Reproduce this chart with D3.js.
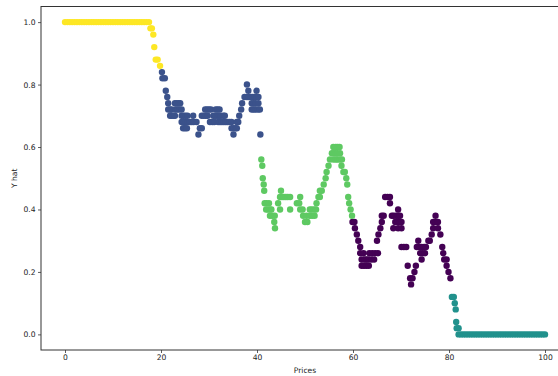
<!DOCTYPE html>
<html>
<head>
<meta charset="utf-8">
<script src="https://cdn.jsdelivr.net/npm/d3@7"></script>
<style>
  html, body { margin: 0; padding: 0; background: #fff; }
  svg { display: block; font-family: "DejaVu Sans", sans-serif; }
</style>
</head>
<body>
<svg id="chart" width="558" height="376"></svg>
<script>
// Predicted probability (Y hat) against price, coloured by cluster.
// Each cluster is a list of [price, yhat] pairs.
const clusterYellow = [
  [0,1],[0.5,1],[1,1],[1.5,1],[2,1],[2.5,1],[3,1],[3.5,1],[4,1],[4.5,1],[5,1],[5.5,1],
  [6,1],[6.5,1],[7,1],[7.5,1],[8,1],[8.5,1],[9,1],[9.5,1],[10,1],[10.5,1],[11,1],[11.5,1],
  [12,1],[12.5,1],[13,1],[13.5,1],[14,1],[14.5,1],[15,1],[15.5,1],[16,1],[16.5,1],[17,1],[17.5,1],
  [17.8,0.98],[18.1,0.98],[18.4,0.96],[18.6,0.92],[18.9,0.88],[19.3,0.88],[19.8,0.86]
];
const clusterBlue = [
  [20.2,0.84],[20.3,0.82],[20.8,0.82],[21.0,0.78],[21.3,0.76],
  [21.5,0.74],[22.9,0.74],[23.3,0.74],[23.7,0.74],[24.0,0.74],
  [21.5,0.72],[21.9,0.72],[22.2,0.72],[23.0,0.72],[23.4,0.72],[23.8,0.72],[24.3,0.72],
  [29.2,0.72],[29.6,0.72],[30.0,0.72],[30.4,0.72],[31.4,0.72],[31.8,0.72],[32.2,0.72],
  [21.9,0.70],[22.2,0.70],[22.6,0.70],[22.9,0.70],[24.3,0.70],[24.7,0.70],[25.1,0.70],[25.5,0.70],
  [26.7,0.70],[28.5,0.70],[28.9,0.70],[29.3,0.70],[29.7,0.70],[30.9,0.70],[31.3,0.70],[31.7,0.70],
  [32.1,0.70],[32.5,0.70],[33.0,0.70],[33.3,0.70],
  [24.3,0.68],[24.8,0.68],[25.2,0.68],[25.6,0.68],[26.0,0.68],[26.4,0.68],[26.8,0.68],[27.4,0.68],
  [30.2,0.68],[30.7,0.68],[31.1,0.68],[31.9,0.68],[32.3,0.68],[32.7,0.68],[33.1,0.68],[33.5,0.68],
  [33.9,0.68],[34.3,0.68],[34.7,0.68],[35.8,0.68],[36.1,0.68],
  [24.6,0.66],[25.0,0.66],[25.4,0.66],[28.1,0.66],[28.5,0.66],[34.7,0.66],[35.1,0.66],[35.5,0.66],
  [35.8,0.66],[27.8,0.64],[35.1,0.64],
  [36.3,0.70],[36.7,0.72],[36.9,0.74],[37.4,0.76],[37.9,0.80],[38.2,0.78],
  [37.9,0.76],[38.3,0.76],[38.7,0.76],[39.1,0.76],[39.5,0.76],[39.9,0.76],[40.3,0.76],
  [38.9,0.74],[39.3,0.74],[39.7,0.74],[40.3,0.74],[38.9,0.72],[39.3,0.72],[39.7,0.72],[40.2,0.72],
  [40.6,0.72],[39.9,0.78],[40.7,0.64]
];
const clusterGreen = [
  [40.9,0.56],[41.1,0.54],[41.2,0.50],[41.4,0.48],[41.5,0.46],[41.6,0.42],[42.0,0.42],[42.5,0.42],
  [41.9,0.40],[42.3,0.40],[42.7,0.40],[43.0,0.40],[42.7,0.38],[43.2,0.38],[43.7,0.38],[43.6,0.36],
  [43.75,0.34],[44.4,0.42],[44.8,0.40],[45.0,0.46],[44.8,0.44],[45.2,0.44],[45.6,0.44],[46.0,0.44],
  [46.4,0.44],[46.9,0.44],[46.9,0.40],[48.3,0.42],[48.8,0.42],[49.0,0.44],[49.0,0.40],[49.5,0.40],
  [49.6,0.38],[50.0,0.36],[50.3,0.38],[50.5,0.36],[51.0,0.40],[51.4,0.40],[51.9,0.40],[52.3,0.40],
  [51.0,0.38],[51.5,0.38],[52.0,0.38],[52.4,0.42],[52.8,0.44],[53.1,0.46],[53.5,0.46],[53.1,0.44],
  [53.9,0.48],[54.3,0.50],[54.5,0.52],[54.9,0.54],[55.2,0.56],[55.6,0.58],[56.0,0.58],[56.4,0.58],
  [56.8,0.58],[57.3,0.58],[55.9,0.60],[56.4,0.60],[56.8,0.60],[57.2,0.60],[55.9,0.56],[56.4,0.56],
  [56.8,0.56],[57.3,0.56],[57.7,0.56],[57.6,0.54],[58.0,0.52],[58.3,0.52],[58.6,0.50],[58.8,0.48],
  [59.0,0.44],[59.2,0.42],[59.5,0.40],[59.8,0.38]
];
const clusterPurple = [
  [59.9,0.36],[60.3,0.36],[60.4,0.34],[60.8,0.32],[61.1,0.30],[61.5,0.28],[61.5,0.26],[62.2,0.26],
  [61.8,0.24],[62.4,0.24],[62.8,0.24],[61.8,0.22],[62.3,0.22],[62.8,0.22],[63.3,0.22],[63.2,0.24],
  [63.8,0.24],[64.4,0.24],[63.4,0.26],[64.0,0.26],[64.6,0.26],[65.2,0.26],[65.0,0.30],[65.3,0.32],
  [65.7,0.34],[66.0,0.36],[66.0,0.38],[66.4,0.38],[66.7,0.44],[67.2,0.44],[67.7,0.44],[67.7,0.42],
  [68.1,0.38],[68.5,0.38],[69.0,0.38],[69.4,0.38],[69.8,0.38],[68.8,0.36],[69.3,0.36],[69.8,0.36],
  [70.1,0.36],[68.4,0.34],[69.4,0.34],[70.1,0.34],[69.4,0.40],[70.1,0.28],[70.6,0.28],[71.1,0.28],
  [71.4,0.22],[71.9,0.18],[72.4,0.18],[72.1,0.16],[72.8,0.20],[73.1,0.22],[73.6,0.30],[73.3,0.28],
  [73.8,0.28],[74.3,0.28],[74.8,0.28],[75.2,0.28],[74.0,0.26],[74.5,0.26],[75.0,0.26],[74.3,0.24],
  [75.7,0.30],[76.0,0.30],[76.4,0.32],[76.7,0.34],[77.7,0.34],[76.7,0.36],[77.2,0.36],[77.7,0.36],
  [77.2,0.38],[78.2,0.32],[78.6,0.28],[78.8,0.26],[79.0,0.24],[79.5,0.24],[79.5,0.22],[79.9,0.20],
  [80.3,0.18]
];
const clusterTeal = [
  [80.6,0.12],[81.0,0.12],[81.2,0.10],[81.4,0.08],[81.5,0.04],[81.6,0.02],[82.0,0.02],
  [82,0],[82.5,0],[83,0],[83.5,0],[84,0],[84.5,0],[85,0],[85.5,0],[86,0],[86.5,0],[87,0],[87.5,0],
  [88,0],[88.5,0],[89,0],[89.5,0],[90,0],[90.5,0],[91,0],[91.5,0],[92,0],[92.5,0],[93,0],[93.5,0],
  [94,0],[94.5,0],[95,0],[95.5,0],[96,0],[96.5,0],[97,0],[97.5,0],[98,0],[98.5,0],[99,0],[99.5,0],[100,0]
];

const clusters = [clusterPurple, clusterBlue, clusterTeal, clusterGreen, clusterYellow];
const clusterColors = ["#440154", "#3b528b", "#21918c", "#5ec962", "#fde725"];

const xTicks = [0, 20, 40, 60, 80, 100];
const yTicks = [0.0, 0.2, 0.4, 0.6, 0.8, 1.0];
const xLabel = "Prices";
const yLabel = "Y hat";

const svg = d3.select("#chart");
const plotLeft = 41, plotRight = 569, plotTop = 6.5, plotBottom = 350;

const x = d3.scaleLinear().domain([-5, 105]).range([plotLeft, plotRight]);
const y = d3.scaleLinear().domain([-0.05, 1.05]).range([plotBottom, plotTop]);

// points
clusters.forEach((pts, i) => {
  svg.append("g")
    .selectAll("circle")
    .data(pts)
    .join("circle")
    .attr("cx", d => x(d[0]))
    .attr("cy", d => y(d[1]))
    .attr("r", 3.2)
    .attr("fill", clusterColors[i]);
});

// axes
const xAxis = svg.append("g")
  .attr("transform", `translate(0,${plotBottom})`)
  .call(d3.axisBottom(x).tickValues(xTicks).tickFormat(d3.format("d")).tickSize(3).tickPadding(2));
const yAxis = svg.append("g")
  .attr("transform", `translate(${plotLeft},0)`)
  .call(d3.axisLeft(y).tickValues(yTicks).tickFormat(d3.format(".1f")).tickSize(3).tickPadding(2.5));

[xAxis, yAxis].forEach(g => {
  g.select(".domain").remove();
  g.selectAll(".tick line").attr("stroke", "#333").attr("stroke-width", 0.8);
  g.selectAll(".tick text")
    .attr("fill", "#222")
    .style("font-family", "'DejaVu Sans', sans-serif")
    .style("font-size", "7.6px");
});

// frame (right edge falls outside the canvas)
svg.append("rect")
  .attr("x", plotLeft).attr("y", plotTop)
  .attr("width", plotRight - plotLeft).attr("height", plotBottom - plotTop)
  .attr("fill", "none").attr("stroke", "#333").attr("stroke-width", 1);

svg.append("text")
  .attr("x", (plotLeft + plotRight) / 2).attr("y", 373)
  .attr("text-anchor", "middle")
  .attr("fill", "#222")
  .style("font-size", "7.6px")
  .text(xLabel);

svg.append("text")
  .attr("transform", `translate(17,${(plotTop + plotBottom) / 2}) rotate(-90)`)
  .attr("text-anchor", "middle")
  .attr("fill", "#222")
  .style("font-size", "7.6px")
  .text(yLabel);
</script>
</body>
</html>
